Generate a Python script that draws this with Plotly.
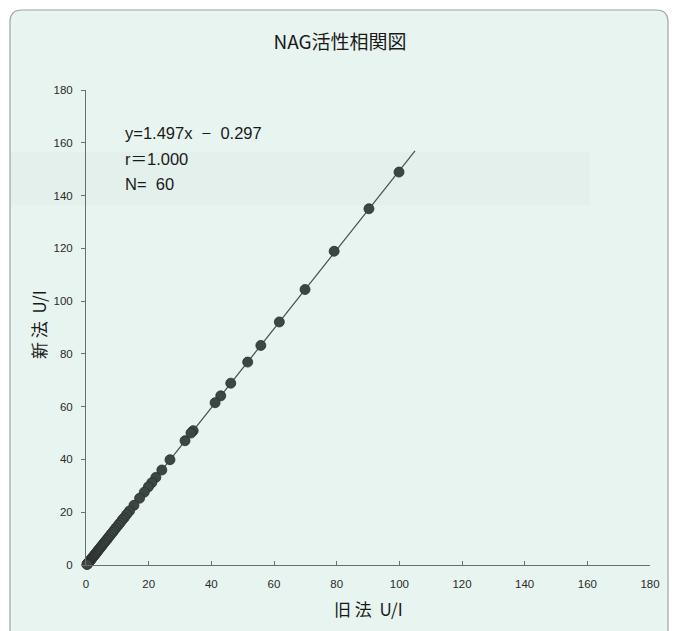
import plotly.graph_objects as go

# ---- data ----
old_method = [99.9, 90.3, 79.2, 69.9, 61.7, 55.8, 51.6, 46.2, 43.0, 41.2,
              34.2, 33.5, 31.6, 26.8, 24.2, 22.3, 21.0, 19.9, 18.6, 17.1,
              15.3, 13.9, 13.0, 12.2, 11.6, 10.9, 10.3, 9.6, 9.0, 8.5,
              8.0, 7.4, 6.9, 6.5, 6.0, 5.6, 5.2, 4.8, 4.5, 4.1,
              3.8, 3.5, 3.2, 2.9, 2.7, 2.4, 2.2, 2.0, 1.8, 1.6,
              1.4, 1.3, 1.1, 1.0, 0.8, 0.7, 0.6, 0.5, 0.4, 0.3]
new_method = [148.9, 135.0, 118.9, 104.4, 92.1, 83.2, 76.9, 68.9, 64.1, 61.5,
              50.9, 50.0, 47.1, 39.9, 36.0, 33.2, 31.2, 29.6, 27.6, 25.3,
              22.6, 20.5, 19.2, 17.9, 17.1, 16.0, 15.1, 14.1, 13.2, 12.4,
              11.7, 10.8, 10.0, 9.4, 8.7, 8.1, 7.5, 6.9, 6.4, 5.9,
              5.4, 4.9, 4.5, 4.0, 3.8, 3.3, 3.0, 2.7, 2.4, 2.1,
              1.8, 1.7, 1.4, 1.2, 0.9, 0.8, 0.6, 0.5, 0.3, 0.2]
slope = 1.497
intercept = -0.297
fit_x_range = [0.2, 105]
tick_vals = [0, 20, 40, 60, 80, 100, 120, 140, 160, 180]
stat_lines = ["y=1.497x  −  0.297", "r＝1.000", "N=  60"]

W, H = 677, 631
L, R, T, B = 86, 27, 90, 66
pw, ph = W - L - R, H - T - B

def px2u(x):
    return (x - L) / pw

def py2v(y):
    return (H - B - y) / ph

fit_y = [slope * x + intercept for x in fit_x_range]

fig = go.Figure()
fig.add_trace(go.Scatter(x=fit_x_range, y=fit_y, mode="lines",
                         line=dict(color="#4a4f4d", width=1.2),
                         showlegend=False, hoverinfo="skip"))
fig.add_trace(go.Scatter(x=old_method, y=new_method, mode="markers",
                         marker=dict(size=10, color="#3c4642",
                                     line=dict(color="#2a302e", width=0.8)),
                         showlegend=False, cliponaxis=False))

# rounded background panel
x0, x1 = px2u(10), px2u(668)
y0, y1 = py2v(660), py2v(10)
rx, ry = 12 / pw, 12 / ph
path = (f"M {x0+rx},{y1} L {x1-rx},{y1} Q {x1},{y1} {x1},{y1-ry} "
        f"L {x1},{y0+ry} Q {x1},{y0} {x1-rx},{y0} L {x0+rx},{y0} "
        f"Q {x0},{y0} {x0},{y0+ry} L {x0},{y1-ry} Q {x0},{y1} {x0+rx},{y1} Z")
shapes = [dict(type="path", xref="paper", yref="paper", path=path,
               fillcolor="#e8f4ef", line=dict(color="#9aa5a0", width=1.2),
               layer="below"),
          dict(type="rect", xref="paper", yref="paper",
               x0=px2u(11), x1=px2u(590), y0=py2v(205), y1=py2v(152),
               fillcolor="#dce9e4", line=dict(width=0), opacity=0.35,
               layer="below")]

annotations = []
for i, s in enumerate(stat_lines):
    annotations.append(dict(xref="paper", yref="paper", x=px2u(123), y=py2v(133 + 25.5 * i),
                            xanchor="left", yanchor="middle", showarrow=False, text=s,
                            font=dict(family="Liberation Sans, Noto Sans CJK JP", size=16.5, color="#1a1a1a")))
annotations.append(dict(xref="paper", yref="paper", x=px2u(368), y=py2v(608),
                        xanchor="center", yanchor="middle", showarrow=False,
                        text="旧 法  U/I",
                        font=dict(family="Noto Sans CJK JP", size=17, color="#1a1a1a")))
annotations.append(dict(xref="paper", yref="paper", x=px2u(38), y=py2v(325),
                        xanchor="center", yanchor="middle", showarrow=False,
                        text="新 法  U/I", textangle=-90,
                        font=dict(family="Noto Sans CJK JP", size=17, color="#1a1a1a")))

tickfont = dict(family="Liberation Sans Narrow, Liberation Sans, Arial", size=11.5, color="#2a2a2a")
fig.update_layout(
    width=W, height=H,
    margin=dict(l=L, r=R, t=T, b=B),
    paper_bgcolor="white", plot_bgcolor="rgba(0,0,0,0)",
    title=dict(text="NAG活性相関図", x=340 / W, xanchor="center",
               y=1 - 42 / H, yanchor="middle",
               font=dict(family="Noto Sans CJK JP", size=19, color="#1a1a1a")),
    shapes=shapes, annotations=annotations,
    xaxis=dict(range=[0, 180], tickvals=tick_vals, showgrid=False, zeroline=False,
               showline=True, linecolor="#6a6f6d", linewidth=1, ticks="inside",
               ticklen=4, tickcolor="#6a6f6d", tickfont=tickfont, ticklabelstandoff=8),
    yaxis=dict(range=[0, 180], tickvals=tick_vals, showgrid=False, zeroline=False,
               showline=True, linecolor="#6a6f6d", linewidth=1, ticks="outside",
               ticklen=4, tickcolor="#6a6f6d", tickfont=tickfont, ticklabelstandoff=6),
)
fig.write_html("out.html")
